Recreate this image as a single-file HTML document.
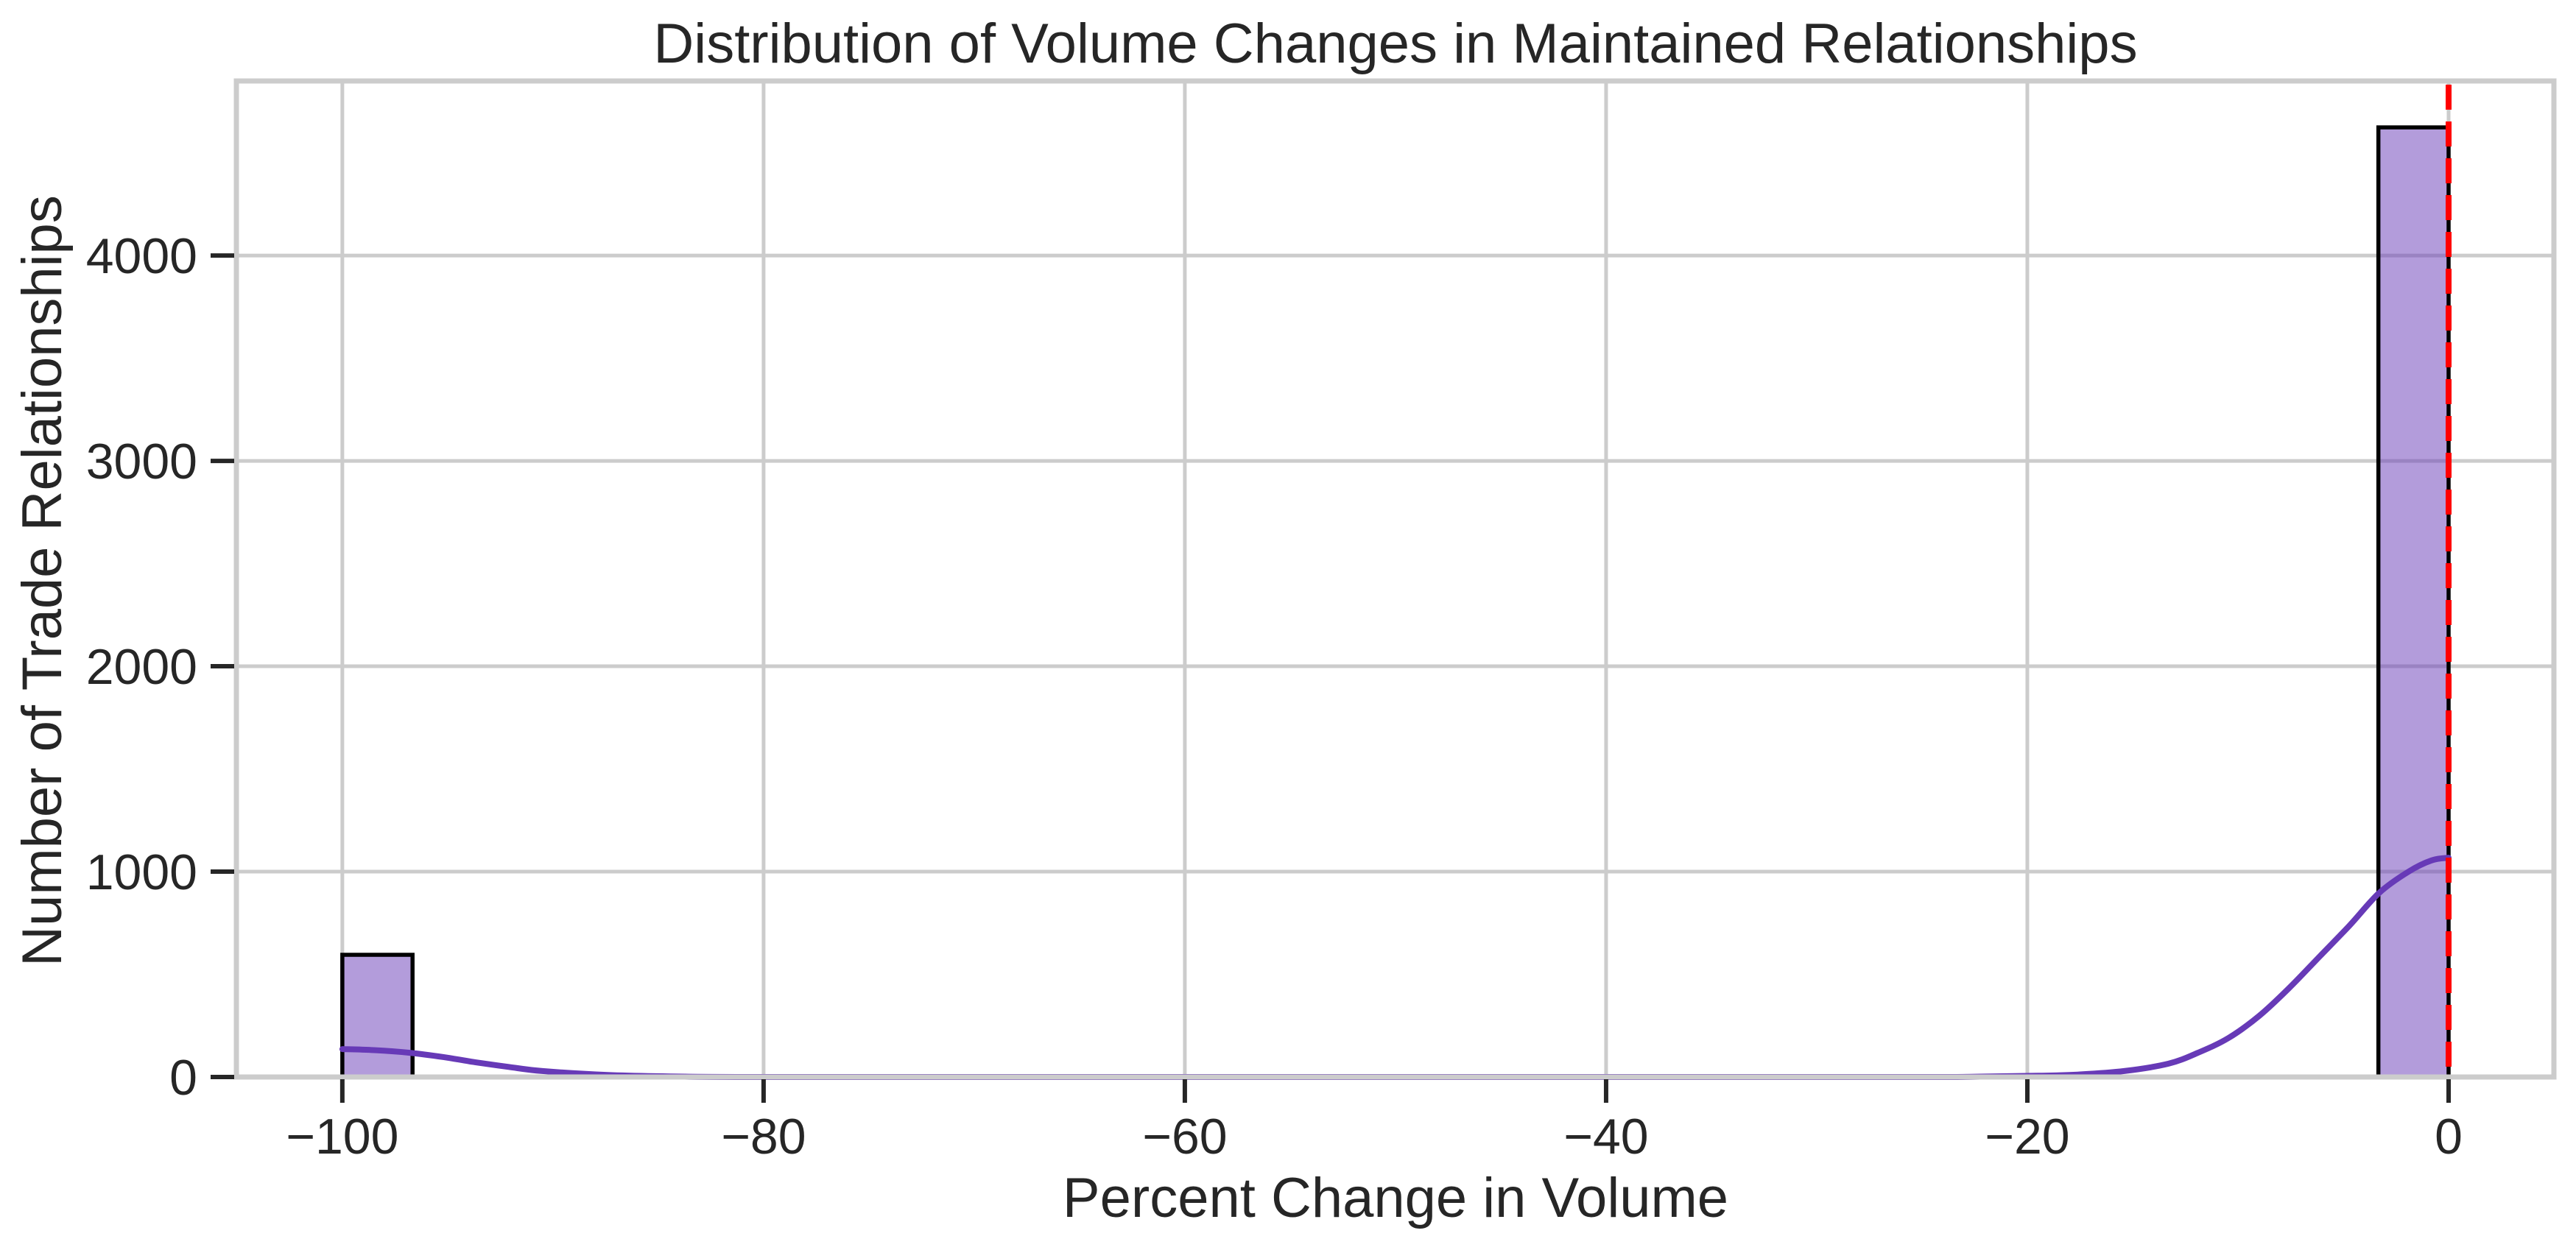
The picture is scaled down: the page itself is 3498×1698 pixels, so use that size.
<!DOCTYPE html>
<html><head><meta charset="utf-8"><style>
html,body{margin:0;padding:0;background:#fff;}
svg{display:block;font-family:"Liberation Sans",Arial,sans-serif;}
</style></head><body>
<svg id="chart" width="3498" height="1698" viewBox="0 0 3498 1698" xmlns="http://www.w3.org/2000/svg">
<rect x="0" y="0" width="3498" height="1698" fill="#fff"/>
<g id="grid"></g>
<g id="bars"></g>
<g id="kde"></g>
<g id="refline"></g>
<g id="spines"></g>
<g id="ticks"></g>
<text x="1895" y="85" font-size="76" fill="#262626" text-anchor="middle">Distribution of Volume Changes in Maintained Relationships</text>
<text x="1895" y="1653" font-size="76" fill="#262626" text-anchor="middle">Percent Change in Volume</text>
<text transform="translate(83,789) rotate(-90)" x="0" y="0" font-size="76" fill="#262626" text-anchor="middle">Number of Trade Relationships</text>
</svg>
<script>
const binStarts = [-100, -3.333];
const binEnds = [-96.667, 0];
const binCounts = [595, 4624];
const kdeX = [-100, -98.5, -96.8, -95.2, -93.7, -92.1, -90.5, -87.4, -84.4, -80, -60, -40, -25, -22, -19.5, -17.6, -15.4, -13.3, -11.9, -10.45, -9.0, -7.6, -6.15, -4.7, -3.3, -1.9, -0.8, 0];
const kdeY = [136, 131, 118, 97, 72, 49, 29, 10, 3, 0, 0, 0, 0, 2, 6, 12, 29, 65, 118, 190, 297, 430, 584, 738, 896, 1000, 1055, 1068];
const xTicks = [-100, -80, -60, -40, -20, 0];
const xTickLabels = ["\u2212100", "\u221280", "\u221260", "\u221240", "\u221220", "0"];
const yTicks = [0, 1000, 2000, 3000, 4000];
const yTickLabels = ["0", "1000", "2000", "3000", "4000"];
const refValue = [0];

const X0 = 321, X1 = 3468, Y0 = 1463, Y1 = 110;
const xMin = -105.03, xMax = 5.0, yMin = 0, yMax = 4850;
function sx(v){ return X0 + (v - xMin) / (xMax - xMin) * (X1 - X0); }
function sy(v){ return Y0 - (v - yMin) / (yMax - yMin) * (Y0 - Y1); }
const NS = "http://www.w3.org/2000/svg";
function mk(tag, attrs, parent){ const e = document.createElementNS(NS, tag); for (const k in attrs) e.setAttribute(k, attrs[k]); parent.appendChild(e); return e; }

const grid = document.getElementById('grid');
xTicks.forEach(function(t){
  const l = mk('line', {x1: sx(t), x2: sx(t), y1: Y1, y2: Y0, stroke: '#cccccc', 'stroke-width': 5}, grid);
  
  
});
yTicks.forEach(function(t){
  const l = mk('line', {x1: X0, x2: X1, y1: sy(t), y2: sy(t), stroke: '#cccccc', 'stroke-width': 5}, grid);
  
  
});

const bars = document.getElementById('bars');
binCounts.forEach(function(c, i){
  const x = sx(binStarts[i]), w = sx(binEnds[i]) - x, y = sy(c);
  const r = mk('rect', {x: x, y: y, width: w, height: Y0 - y, fill: 'rgba(103,58,183,0.5)', stroke: '#000', 'stroke-width': 5.5}, bars);
  
  
});

const kde = document.getElementById('kde');
const pts = kdeX.map(function(v, i){ return [sx(v), sy(kdeY[i])]; });
let d = 'M' + pts[0][0].toFixed(1) + ',' + pts[0][1].toFixed(1);
for (let i = 0; i < pts.length - 1; i++) {
  const p0 = pts[Math.max(0, i - 1)], p1 = pts[i], p2 = pts[i + 1], p3 = pts[Math.min(pts.length - 1, i + 2)];
  let c1y = p1[1] + (p2[1] - p0[1]) / 6, c2y = p2[1] - (p3[1] - p1[1]) / 6;
  c1y = Math.min(Y0, c1y); c2y = Math.min(Y0, c2y);
  const c1x = p1[0] + (p2[0] - p0[0]) / 6, c2x = p2[0] - (p3[0] - p1[0]) / 6;
  d += ' C' + c1x.toFixed(1) + ',' + c1y.toFixed(1) + ' ' + c2x.toFixed(1) + ',' + c2y.toFixed(1) + ' ' + p2[0].toFixed(1) + ',' + p2[1].toFixed(1);
}
const path = mk('path', {d: d, fill: 'none', stroke: '#673ab7', 'stroke-width': 8, 'stroke-linejoin': 'round', 'stroke-linecap': 'round'}, kde);



const ref = document.getElementById('refline');
const rl = mk('line', {x1: sx(refValue[0]), x2: sx(refValue[0]), y1: Y1, y2: Y0, stroke: '#ff0000', 'stroke-width': 8, 'stroke-dasharray': '34 16', 'stroke-dashoffset': '-5'}, ref);



const spines = document.getElementById('spines');
const sp = mk('rect', {x: X0, y: Y1, width: X1 - X0, height: Y0 - Y1, fill: 'none', stroke: '#cccccc', 'stroke-width': 7}, spines);



const ticks = document.getElementById('ticks');
xTicks.forEach(function(t, i){
  const l = mk('line', {x1: sx(t), x2: sx(t), y1: Y0 + 3, y2: Y0 + 35, stroke: '#262626', 'stroke-width': 6}, ticks);
  
  
  const tx = mk('text', {x: sx(t), y: 1567, 'font-size': 68, fill: '#262626', 'text-anchor': 'middle'}, ticks);
  tx.textContent = xTickLabels[i];
  
  
});
yTicks.forEach(function(t, i){
  const l = mk('line', {x1: X0 - 3, x2: X0 - 35, y1: sy(t), y2: sy(t), stroke: '#262626', 'stroke-width': 6}, ticks);
  
  
  const tx = mk('text', {x: 268, y: sy(t) + 24, 'font-size': 68, fill: '#262626', 'text-anchor': 'end'}, ticks);
  tx.textContent = yTickLabels[i];
  
  
});
</script>
</body></html>
